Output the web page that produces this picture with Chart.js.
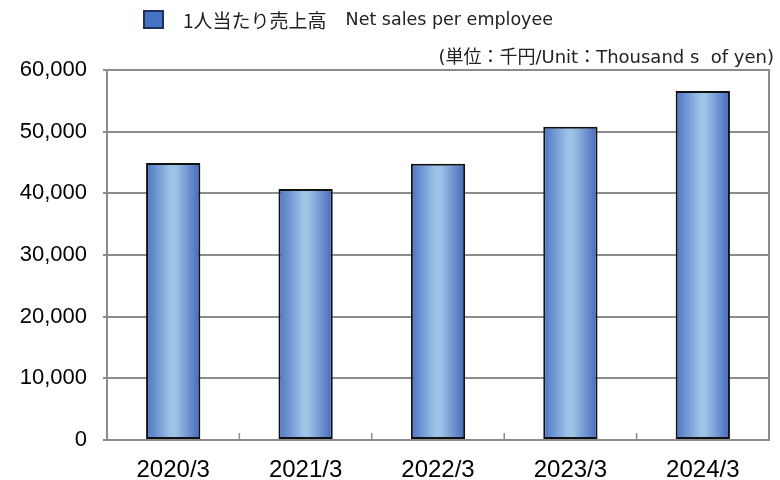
<!DOCTYPE html>
<html>
<head>
<meta charset="utf-8">
<script src="https://cdn.jsdelivr.net/npm/chart.js@4.4.0/dist/chart.umd.min.js"></script>
<style>
  body { margin: 0; background: #fff; }
  #wrap { position: relative; width: 780px; height: 480px; }
  #legend { position: absolute; left: 143px; top: 9px; height: 20px; display: flex; align-items: center; color: #222; white-space: nowrap; }
  #legend .box { width: 21px; height: 19px; background: #4472c4; border: 2px solid #1f2f55; box-sizing: border-box; margin-right: 19px; }
  #legend .jp { font: 19px "Noto Sans CJK JP"; }
  #legend .en { font: 17.5px "DejaVu Sans"; margin-left: 19px; }
  #unit { position: absolute; right: 6px; top: 42px; font: 18px "DejaVu Sans", "Noto Sans CJK JP"; color: #222; white-space: pre; }
</style>
</head>
<body>
<div id="wrap">
  <canvas id="chart" width="780" height="480"></canvas>
  <div id="legend"><span class="box"></span><span class="jp">1人当たり売上高</span><span class="en">Net sales per employee</span></div>
  <div id="unit">(単位：千円/Unit：Thousand s  of yen)</div>
</div>
<script>
// Fiscal years
const categories = ['2020/3', '2021/3', '2022/3', '2023/3', '2024/3'];
// Net sales per employee (thousand yen)
const salesPerEmployee = [44900, 40700, 44800, 50800, 56600];
// y axis ticks
const yMax = 60000;
const yStep = 10000;
const barPct = 0.41;

// gradient across each bar: darker edges, light middle
function barGradient(ctx) {
    const chart = ctx.chart;
    const x = chart.scales.x;
    if (!x || !chart.chartArea) return '#4472c4';
    const cx = x.getPixelForValue(ctx.dataIndex);
    const w = (x.width / categories.length) * barPct;
    if (!isFinite(cx) || !isFinite(w) || w <= 0) return '#4472c4';
    const g = chart.ctx.createLinearGradient(cx - w / 2, 0, cx + w / 2, 0);
    g.addColorStop(0, '#4c74c4');
    g.addColorStop(0.45, '#9dc3e6');
    g.addColorStop(0.55, '#9dc3e6');
    g.addColorStop(1, '#4468bc');
    return g;
}

// frame around plot area and small inside ticks between categories
const framePlugin = {
    id: 'frame',
    afterDatasetsDraw(chart) {
        const { ctx, chartArea: a, scales: { x } } = chart;
        ctx.save();
        ctx.strokeStyle = '#8c8c8c';
        ctx.lineWidth = 2;
        ctx.strokeRect(a.left, a.top, a.right - a.left, a.bottom - a.top);
        ctx.lineWidth = 1.5;
        for (let i = 0; i < categories.length - 1; i++) {
            const px = (x.getPixelForValue(i) + x.getPixelForValue(i + 1)) / 2;
            ctx.beginPath();
            ctx.moveTo(px, a.bottom);
            ctx.lineTo(px, a.bottom - 7);
            ctx.stroke();
        }
        ctx.restore();
    }
};

new Chart(document.getElementById('chart'), {
    type: 'bar',
    data: {
        labels: categories,
        datasets: [{
            label: '1人当たり売上高 Net sales per employee',
            data: salesPerEmployee,
            backgroundColor: barGradient,
            borderColor: '#111',
            borderWidth: 2,
            borderSkipped: false,
            categoryPercentage: 1,
            barPercentage: barPct
        }]
    },
    options: {
        responsive: false,
        animation: false,
        layout: { padding: { top: 70, right: 11, left: 0, bottom: 0 } },
        plugins: {
            legend: { display: false },
            tooltip: { enabled: false }
        },
        scales: {
            x: {
                grid: { display: false },
                border: { display: false },
                ticks: {
                    color: '#000',
                    font: { family: '"Liberation Sans", Arial', size: 24 },
                    padding: 8
                },
                afterFit(scale) { scale.height = 40; }
            },
            y: {
                min: 0,
                max: yMax,
                border: { display: false },
                grid: { color: '#8c8c8c', lineWidth: 2, tickLength: 4 },
                ticks: {
                    stepSize: yStep,
                    color: '#000',
                    padding: 16,
                    font: { family: '"Liberation Sans", Arial', size: 22 },
                    callback: v => v.toLocaleString('en-US')
                },
                afterFit(scale) { scale.width = 107; }
            }
        }
    },
    plugins: [framePlugin]
});
</script>
</body>
</html>
